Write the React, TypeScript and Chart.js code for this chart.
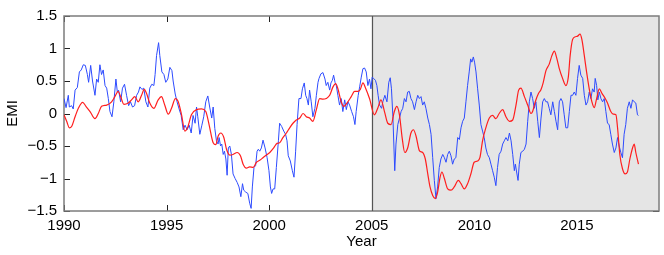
import React, { useEffect, useRef } from "react";
import { Chart, registerables } from "chart.js";

Chart.register(...registerables);

const xTicks = [1990, 1995, 2000, 2005, 2010, 2015];
const yTicks = [-1.5, -1, -0.5, 0, 0.5, 1, 1.5];
const shadeStart = 2005;
const xMin = 1990;
const xMax = 2019;

const blueYears = [
  1990.0, 1990.1, 1990.21, 1990.26, 1990.37, 1990.45, 1990.54, 1990.65, 1990.75, 1990.84, 1990.94,
  1991.04, 1991.14, 1991.2, 1991.3, 1991.39, 1991.51, 1991.59, 1991.67, 1991.75, 1991.83, 1991.91,
  1992.0, 1992.08, 1992.16, 1992.24, 1992.34, 1992.43, 1992.53, 1992.6, 1992.66, 1992.76, 1992.85, 1992.95,
  1993.05, 1993.15, 1993.24, 1993.34, 1993.44, 1993.54, 1993.63, 1993.7, 1993.8, 1993.89, 1993.99,
  1994.09, 1994.18, 1994.28, 1994.38, 1994.44, 1994.51, 1994.61, 1994.67, 1994.77, 1994.87, 1994.96,
  1995.06, 1995.16, 1995.26, 1995.32, 1995.42, 1995.51, 1995.61, 1995.71, 1995.81, 1995.9,
  1996.0, 1996.1, 1996.2, 1996.29, 1996.39, 1996.46, 1996.52, 1996.62, 1996.72, 1996.81, 1996.91,
  1997.01, 1997.1, 1997.2, 1997.27, 1997.35, 1997.43, 1997.51, 1997.56, 1997.63, 1997.69, 1997.76, 1997.82, 1997.89, 1997.95,
  1998.01, 1998.08, 1998.16, 1998.24, 1998.34, 1998.44, 1998.53, 1998.62, 1998.7, 1998.76, 1998.86, 1998.96,
  1999.05, 1999.12, 1999.18, 1999.26, 1999.34, 1999.41, 1999.47, 1999.54, 1999.62, 1999.7, 1999.8, 1999.9, 1999.99,
  2000.06, 2000.12, 2000.19, 2000.27, 2000.35, 2000.45, 2000.51, 2000.61, 2000.71, 2000.8, 2000.87, 2000.93,
  2001.03, 2001.13, 2001.21, 2001.29, 2001.36, 2001.45, 2001.55, 2001.62, 2001.71, 2001.78, 2001.84, 2001.91, 2001.97,
  2002.05, 2002.13, 2002.23, 2002.3, 2002.38, 2002.43, 2002.52, 2002.62, 2002.72, 2002.78, 2002.86, 2002.95,
  2003.01, 2003.08, 2003.14, 2003.21, 2003.27, 2003.35, 2003.43, 2003.51, 2003.59, 2003.68, 2003.76, 2003.84, 2003.92,
  2004.02, 2004.11, 2004.18, 2004.24, 2004.34, 2004.41, 2004.49, 2004.57, 2004.65, 2004.73, 2004.81, 2004.89, 2004.96,
  2005.02, 2005.09, 2005.18, 2005.25, 2005.31, 2005.38, 2005.48, 2005.54, 2005.64, 2005.74, 2005.83, 2005.9, 2005.96,
  2006.03, 2006.12, 2006.18, 2006.27, 2006.35, 2006.43, 2006.51, 2006.59, 2006.67, 2006.75, 2006.83, 2006.91, 2006.99,
  2007.08, 2007.16, 2007.24, 2007.32, 2007.4, 2007.48, 2007.56, 2007.64, 2007.73, 2007.81, 2007.89, 2007.97,
  2008.05, 2008.13, 2008.21, 2008.29, 2008.37, 2008.46, 2008.54, 2008.62, 2008.7, 2008.78, 2008.86, 2008.94,
  2009.02, 2009.1, 2009.19, 2009.27, 2009.35, 2009.43, 2009.51, 2009.59, 2009.67, 2009.75, 2009.82, 2009.88, 2009.95,
  2010.01, 2010.08, 2010.16, 2010.24, 2010.32, 2010.4, 2010.48, 2010.56, 2010.64, 2010.73, 2010.81, 2010.89, 2010.97,
  2011.05, 2011.13, 2011.21, 2011.3, 2011.38, 2011.46, 2011.54, 2011.63, 2011.71, 2011.79, 2011.87, 2011.95,
  2012.0, 2012.06, 2012.13, 2012.19, 2012.27, 2012.36, 2012.44, 2012.52, 2012.6, 2012.68, 2012.76, 2012.84, 2012.92,
  2013.0, 2013.09, 2013.17, 2013.25, 2013.33, 2013.41, 2013.49, 2013.57, 2013.65, 2013.73, 2013.82, 2013.9, 2013.98,
  2014.06, 2014.14, 2014.22, 2014.3, 2014.38, 2014.46, 2014.55, 2014.63, 2014.71, 2014.79, 2014.87, 2014.95,
  2015.03, 2015.11, 2015.19, 2015.28, 2015.36, 2015.44, 2015.52, 2015.6, 2015.68, 2015.76, 2015.84, 2015.89, 2015.96,
  2016.02, 2016.09, 2016.17, 2016.25, 2016.33, 2016.41, 2016.49, 2016.57, 2016.65, 2016.73, 2016.82, 2016.9, 2016.98,
  2017.06, 2017.14, 2017.22, 2017.3, 2017.38, 2017.46, 2017.55, 2017.63, 2017.71, 2017.79, 2017.87, 2017.95, 2018.0,
];

const blueValues = [
  0.23, 0.09, 0.28, 0.1, 0.12, 0.07, 0.36, 0.4, 0.64, 0.67, 0.75,
  0.74, 0.6, 0.48, 0.74, 0.5, 0.28, 0.53, 0.48, 0.75, 0.6, 0.67,
  0.43, 0.39, 0.23, 0.03, -0.05, 0.18, 0.53, 0.33, 0.36, 0.18, 0.39, 0.45,
  0.28, 0.12, 0.18, 0.1, 0.12, 0.28, 0.33, 0.41, 0.37, 0.39, 0.18,
  0.1, 0.39, 0.45, 0.43, 0.6, 0.89, 1.09, 0.89, 0.64, 0.6, 0.48,
  0.53, 0.71, 0.66, 0.5, 0.3, 0.18, 0.07, -0.03, -0.25, -0.18,
  -0.25, -0.18, -0.3, -0.03, -0.15, 0.1, -0.05, -0.32, -0.18, -0.05, 0.18,
  0.27, 0.1, -0.07, 0.1, -0.23, -0.42, -0.47, -0.37, -0.5, -0.47, -0.63, -0.58, -0.7, -0.95,
  -0.53, -0.5, -0.63, -0.93, -1.0, -1.06, -1.13, -1.28, -1.08, -1.18, -1.21, -1.23,
  -1.38, -1.46, -1.13, -0.83, -0.8, -0.58, -0.55, -0.58, -0.53, -0.41, -0.53, -0.68, -0.88,
  -1.13, -1.23, -1.16, -1.16, -0.83, -0.42, -0.15, -0.2, -0.27, -0.32, -0.42, -0.65,
  -0.73, -0.88, -0.98, -0.58, -0.17, 0.23, 0.23, 0.38, 0.47, 0.28, 0.23, 0.13, 0.36,
  0.18, -0.05, 0.08, 0.28, 0.48, 0.54, 0.61, 0.63, 0.53, 0.43, 0.48, 0.36,
  0.47, 0.51, 0.59, 0.48, 0.43, 0.28, 0.13, 0.23, 0.03, 0.21, 0.06, 0.18, 0.13,
  0.03, -0.05, -0.17, 0.03, 0.28, 0.41, 0.56, 0.69, 0.7, 0.64, 0.43, 0.53, 0.38,
  0.56, 0.54, 0.51, 0.43, 0.28, 0.13, 0.08, 0.18, 0.28, 0.18, 0.48, 0.55, 0.38,
  -0.05, -0.88, -0.47, -0.17, -0.07, 0.03, 0.08, 0.23, 0.18, 0.33, 0.34, 0.23, 0.18,
  0.06, 0.18, 0.28, 0.23, 0.26, 0.13, 0.18, 0.08, -0.07, -0.17, -0.32, -0.68,
  -1.03, -1.31, -1.13, -0.83, -0.7, -0.63, -0.68, -0.75, -0.63, -0.58, -0.65, -0.78,
  -0.7, -0.68, -0.37, -0.4, -0.22, -0.12, -0.07, 0.18, 0.43, 0.64, 0.84, 0.79, 0.87,
  0.79, 0.64, 0.38, 0.13, -0.17, -0.27, -0.37, -0.53, -0.63, -0.68, -0.78, -0.88, -0.98,
  -1.11, -0.83, -0.63, -0.58, -0.47, -0.42, -0.37, -0.42, -0.3, -0.42, -0.63, -0.88,
  -0.78, -0.9, -1.03, -0.78, -0.6, -0.58, -0.55, -0.47, -0.12, 0.18, 0.33, 0.23, 0.08,
  0.18, -0.12, -0.37, -0.07, 0.18, 0.23, 0.18, 0.18, 0.08, -0.02, 0.18, 0.03, -0.12,
  -0.25, 0.18, 0.23, 0.18, -0.02, -0.22, -0.22, 0.03, 0.28, 0.28, 0.33, 0.28,
  0.54, 0.74, 0.59, 0.54, 0.28, 0.13, 0.18, 0.33, 0.23, 0.38, 0.33, 0.54, 0.43,
  0.21, 0.33, 0.23, 0.18, 0.23, 0.03, -0.15, -0.17, -0.32, -0.47, -0.6, -0.53, -0.37,
  -0.5, -0.6, -0.68, -0.32, -0.17, 0.08, 0.18, 0.08, 0.21, 0.18, 0.16, -0.02, -0.03,
];

const redYears = [
  1990.0, 1990.13, 1990.26, 1990.37, 1990.54, 1990.7, 1990.91, 1991.07, 1991.27, 1991.51, 1991.67, 1991.83,
  1992.08, 1992.32, 1992.48, 1992.64, 1992.76, 1992.92, 1993.13, 1993.29, 1993.45, 1993.62, 1993.78, 1993.91,
  1994.02, 1994.18, 1994.38, 1994.59, 1994.75, 1994.91, 1995.08, 1995.24, 1995.43, 1995.56, 1995.73, 1995.89,
  1996.02, 1996.21, 1996.46, 1996.7, 1996.91, 1997.07, 1997.27, 1997.4, 1997.51, 1997.64, 1997.79, 1997.92,
  1998.08, 1998.24, 1998.44, 1998.6, 1998.73, 1998.89, 1999.05, 1999.22, 1999.38, 1999.54, 1999.7, 1999.86,
  2000.03, 2000.22, 2000.38, 2000.51, 2000.67, 2000.84, 2001.0, 2001.16, 2001.32, 2001.49, 2001.65, 2001.81, 2001.97,
  2002.13, 2002.3, 2002.46, 2002.62, 2002.78, 2002.95, 2003.11, 2003.24, 2003.35, 2003.51, 2003.63, 2003.79,
  2004.0, 2004.16, 2004.32, 2004.44, 2004.57, 2004.7, 2004.89, 2005.13, 2005.29, 2005.45, 2005.62, 2005.78, 2005.94,
  2006.1, 2006.22, 2006.35, 2006.48, 2006.61, 2006.75, 2006.91, 2007.03, 2007.16, 2007.32, 2007.48, 2007.61, 2007.73, 2007.84, 2007.97,
  2008.1, 2008.21, 2008.33, 2008.42, 2008.54, 2008.7, 2008.86, 2009.02, 2009.22, 2009.35, 2009.51, 2009.67, 2009.83, 2009.99,
  2010.16, 2010.27, 2010.4, 2010.56, 2010.73, 2010.89, 2011.05, 2011.21, 2011.38, 2011.54, 2011.71, 2011.87,
  2012.03, 2012.16, 2012.27, 2012.44, 2012.6, 2012.76, 2012.84, 2012.97, 2013.13, 2013.25, 2013.36, 2013.49, 2013.65, 2013.78, 2013.9,
  2014.01, 2014.14, 2014.3, 2014.46, 2014.58, 2014.67, 2014.79, 2014.92, 2015.03, 2015.15, 2015.24, 2015.36, 2015.47, 2015.6, 2015.73, 2015.84, 2015.96,
  2016.09, 2016.22, 2016.38, 2016.49, 2016.65, 2016.77, 2016.9, 2016.98, 2017.09, 2017.22, 2017.35, 2017.46, 2017.58, 2017.71, 2017.79, 2017.87, 2018.0,
];

const redValues = [
  -0.02, -0.12, -0.22, -0.2, -0.05, 0.08, 0.17, 0.11, 0.03, -0.08, 0.0, 0.11,
  0.13, 0.18, 0.26, 0.34, 0.26, 0.14, 0.16, 0.21, 0.26, 0.18, 0.28, 0.37,
  0.31, 0.16, 0.08, 0.21, 0.26, 0.13, -0.01, 0.08, 0.23, 0.19, -0.02, -0.27,
  -0.22, -0.02, 0.06, 0.07, 0.03, -0.17, -0.45, -0.48, -0.35, -0.3, -0.37, -0.55,
  -0.64, -0.63, -0.6, -0.65, -0.78, -0.84, -0.82, -0.83, -0.75, -0.72, -0.68, -0.64,
  -0.6, -0.53, -0.46, -0.45, -0.37, -0.3, -0.22, -0.15, -0.1, -0.07, 0.0, -0.05, -0.07,
  -0.12, 0.06, 0.23, 0.22, 0.23, 0.28, 0.41, 0.46, 0.38, 0.18, 0.11, 0.16,
  0.26, 0.34, 0.34, 0.37, 0.47, 0.39, 0.23, -0.02, 0.08, 0.21, 0.03, -0.15, -0.17,
  0.03, 0.11, -0.02, -0.37, -0.6, -0.53, -0.3, -0.25, -0.35, -0.57, -0.6, -0.7, -0.93, -1.13, -1.26,
  -1.31, -1.21, -0.98, -0.9, -1.0, -1.16, -1.18, -1.13, -1.03, -1.08, -1.16, -1.08, -0.93, -0.75,
  -0.73, -0.68, -0.42, -0.22, -0.07, -0.03, -0.08, 0.0, 0.06, -0.05, -0.12, -0.1,
  0.13, 0.36, 0.39, 0.26, 0.13, 0.0, 0.03, 0.18, 0.31, 0.37, 0.48, 0.66, 0.76, 0.89, 0.96,
  0.86, 0.69, 0.54, 0.43, 0.56, 0.89, 1.14, 1.18, 1.19, 1.22, 1.14, 0.89, 0.64, 0.38, 0.18, 0.09, 0.23,
  0.38, 0.31, 0.23, 0.16, 0.03, -0.01, -0.02, -0.22, -0.63, -0.85, -0.93, -0.9, -0.7, -0.53, -0.47, -0.6, -0.78,
];

const FONT = "'Liberation Sans', Arial, Helvetica, sans-serif";

const fmtY = (v: number) => (v < 0 ? "\u2212" + String(Math.abs(v)) : String(v));

const framePlugin = {
  id: "matlabFrame",
  beforeDatasetsDraw(chart: any) {
    const { ctx, chartArea: a, scales } = chart;
    const xs = scales.x;
    const ys = scales.y;
    ctx.save();
    // inward ticks (drawn below the shaded patch, like axes layer "bottom")
    ctx.strokeStyle = "#222";
    ctx.lineWidth = 1;
    ctx.beginPath();
    for (const t of xTicks) {
      const px = Math.round(xs.getPixelForValue(t)) + 0.5;
      ctx.moveTo(px, a.bottom);
      ctx.lineTo(px, a.bottom - 6);
      ctx.moveTo(px, a.top);
      ctx.lineTo(px, a.top + 6);
    }
    for (const t of yTicks) {
      const py = Math.round(ys.getPixelForValue(t)) + 0.5;
      ctx.moveTo(a.left, py);
      ctx.lineTo(a.left + 6, py);
      ctx.moveTo(a.right, py);
      ctx.lineTo(a.right - 6, py);
    }
    ctx.stroke();
    // shaded region
    const sx = xs.getPixelForValue(shadeStart);
    ctx.fillStyle = "#e5e5e5";
    ctx.fillRect(sx, a.top, a.right - sx, a.bottom - a.top);
    // box
    ctx.strokeStyle = "#7c7c7c";
    ctx.lineWidth = 1.5;
    ctx.strokeRect(a.left, a.top, a.right - a.left, a.bottom - a.top);
    // patch edge
    ctx.beginPath();
    ctx.moveTo(Math.round(sx) + 0.5, a.top);
    ctx.lineTo(Math.round(sx) + 0.5, a.bottom);
    ctx.strokeStyle = "#555";
    ctx.lineWidth = 1.2;
    ctx.stroke();
    ctx.restore();
  },
};

export default function App() {
  const canvasRef = useRef<HTMLCanvasElement | null>(null);

  useEffect(() => {
    document.body.style.margin = "0";
    const canvas = canvasRef.current;
    if (!canvas) return;
    const blue = blueYears.map((x, i) => ({ x, y: blueValues[i] }));
    const red = redYears.map((x, i) => ({ x, y: redValues[i] }));
    const chart = new Chart(canvas, {
      type: "line",
      data: {
        datasets: [
          {
            label: "red",
            data: red,
            borderColor: "rgb(255,30,30)",
            borderWidth: 1.2,
            pointRadius: 0,
            cubicInterpolationMode: "monotone",
            fill: false,
          },
          {
            label: "blue",
            data: blue,
            borderColor: "rgb(45,75,255)",
            borderWidth: 1,
            pointRadius: 0,
            tension: 0,
            fill: false,
          },
        ],
      },
      options: {
        animation: false,
        responsive: false,
        maintainAspectRatio: false,
        layout: { padding: { left: 0, right: 5, top: 13, bottom: 0 } },
        plugins: { legend: { display: false }, tooltip: { enabled: false } },
        scales: {
          x: {
            type: "linear",
            min: xMin,
            max: xMax,
            afterBuildTicks: (s: any) => {
              s.ticks = xTicks.map((v) => ({ value: v }));
            },
            afterFit: (s: any) => {
              s.height = 44;
            },
            grid: { display: false, drawTicks: false },
            border: { display: false },
            ticks: {
              font: { family: FONT, size: 15 },
              color: "#000",
              padding: 6,
              maxRotation: 0,
              autoSkip: false,
              callback: (v: any) => String(v),
            },
            title: {
              display: true,
              text: "Year",
              font: { family: FONT, size: 15 },
              color: "#000",
              padding: 4,
            },
          },
          y: {
            type: "linear",
            min: -1.5,
            max: 1.5,
            afterBuildTicks: (s: any) => {
              s.ticks = yTicks.map((v) => ({ value: v }));
            },
            afterFit: (s: any) => {
              s.width = 64;
            },
            grid: { display: false, drawTicks: false },
            border: { display: false },
            ticks: {
              font: { family: FONT, size: 15 },
              color: "#000",
              padding: 7,
              callback: (v: any) => fmtY(Number(v)),
            },
            title: {
              display: true,
              text: "EMI",
              font: { family: FONT, size: 15 },
              color: "#000",
              padding: 4,
            },
          },
        },
      },
      plugins: [framePlugin],
    });
    return () => chart.destroy();
  }, []);

  return (
    <div style={{ width: 664, height: 255 }}>
      <canvas ref={canvasRef} width={664} height={255} style={{ display: "block", width: 664, height: 255 }} />
    </div>
  );
}
